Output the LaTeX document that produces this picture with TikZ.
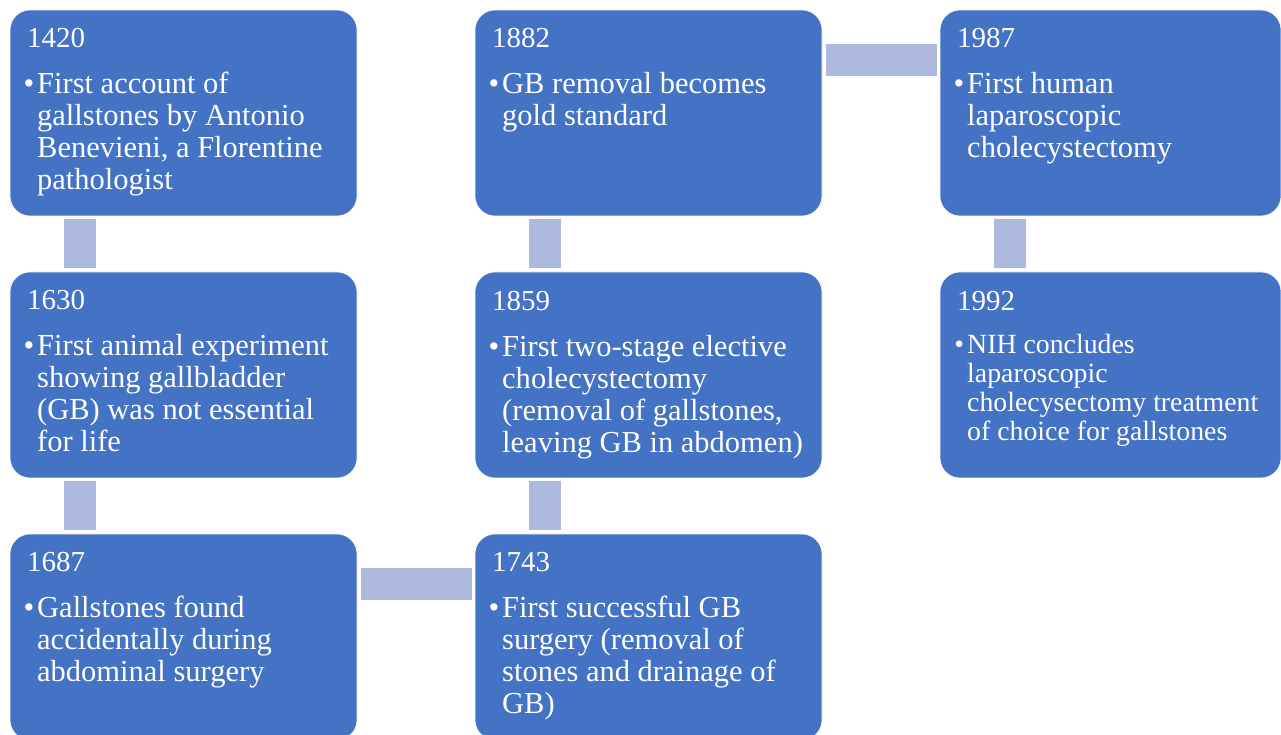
\documentclass[tikz,border=0pt]{standalone}
\usepackage{fontspec}
\setmainfont{Liberation Serif}
\usetikzlibrary{positioning}
\definecolor{evtblue}{HTML}{4472C4}
\definecolor{linkblue}{HTML}{ADBADD}
\newcommand{\yr}[1]{{\fontsize{29}{32}\selectfont #1\par}\vspace{14pt}}
\newcommand{\bul}{\leftskip=10pt\relax\leavevmode\llap{\textbullet\hspace{3pt}}}

\begin{document}
\begin{tikzpicture}[x=1pt,y=1pt,node distance=56pt and 118pt,
	evt/.style={rectangle,rounded corners=20pt,fill=evtblue,draw=white,line width=0.6pt,
		minimum width=347pt,minimum height=206pt,inner sep=0pt,outer sep=0pt},
	txt/.style={anchor=base west,inner sep=0pt,text=white,font=\fontsize{30.5}{32}\selectfont},
	link/.style={draw=linkblue,line width=32pt,shorten <=3.5pt,shorten >=3.5pt}]
				\useasboundingbox (0,0) rectangle (1281,735);
				% boxes
				\node[evt,anchor=north west] (b1420) at (10,725) {};
				\node[evt] (b1630) [below=of b1420] {};
				\node[evt] (b1687) [below=of b1630] {};
				\node[evt] (b1743) [right=of b1687] {};
				\node[evt] (b1859) [above=of b1743] {};
				\node[evt] (b1882) [above=of b1859] {};
				\node[evt,minimum width=341pt] (b1987) [right=of b1882] {};
				\node[evt,minimum width=341pt] (b1992) [below=of b1987] {};
				% links
				\draw[link] ([xshift=70]b1420.south west) -- ([xshift=70]b1630.north west);
				\draw[link] ([xshift=70]b1630.south west) -- ([xshift=70]b1687.north west);
				\draw[link] ([yshift=-50]b1687.north east) -- ([yshift=-50]b1743.north west);
				\draw[link] ([xshift=70]b1743.north west) -- ([xshift=70]b1859.south west);
				\draw[link] ([xshift=70]b1859.north west) -- ([xshift=70]b1882.south west);
				\draw[link] ([yshift=-50]b1882.north east) -- ([yshift=-50]b1987.north west);
				\draw[link] ([xshift=70]b1987.south west) -- ([xshift=70]b1992.north west);
				% texts
				\node[txt] (t1420) at ([shift={(17,-38)}]b1420.north west) {\parbox[t]{330pt}{\yr{1420}\bul
					First account of\\gallstones by Antonio\\Benevieni, a Florentine\\pathologist}};
				\node[txt] (t1630) at ([shift={(17,-38)}]b1630.north west) {\parbox[t]{330pt}{\yr{1630}\bul
					First animal experiment\\showing gallbladder\\(GB) was not essential\\for life}};
				\node[txt] (t1687) at ([shift={(17,-38)}]b1687.north west) {\parbox[t]{330pt}{\yr{1687}\bul
					Gallstones found\\accidentally during\\abdominal surgery}};
				\node[txt] (t1743) at ([shift={(17,-38)}]b1743.north west) {\parbox[t]{330pt}{\yr{1743}\bul
					First successful GB\\surgery (removal of\\stones and drainage of\\GB)}};
				\node[txt] (t1859) at ([shift={(17,-39)}]b1859.north west) {\parbox[t]{330pt}{\yr{1859}\bul
					First two-stage elective\\cholecystectomy\\(removal of gallstones,\\leaving GB in abdomen)}};
				\node[txt] (t1882) at ([shift={(17,-38)}]b1882.north west) {\parbox[t]{330pt}{\yr{1882}\bul
					GB removal becomes\\gold standard}};
				\node[txt] (t1987) at ([shift={(17,-38)}]b1987.north west) {\parbox[t]{320pt}{\yr{1987}\bul
					First human\\laparoscopic\\cholecystectomy}};
				\node[txt,font=\fontsize{27.8}{29}\selectfont] (t1992) at ([shift={(17,-39)}]b1992.north west) {\parbox[t]{320pt}{\yr{1992}\bul
					NIH concludes\\laparoscopic\\cholecysectomy treatment\\of choice for gallstones}};
			\end{tikzpicture}
\end{document}
